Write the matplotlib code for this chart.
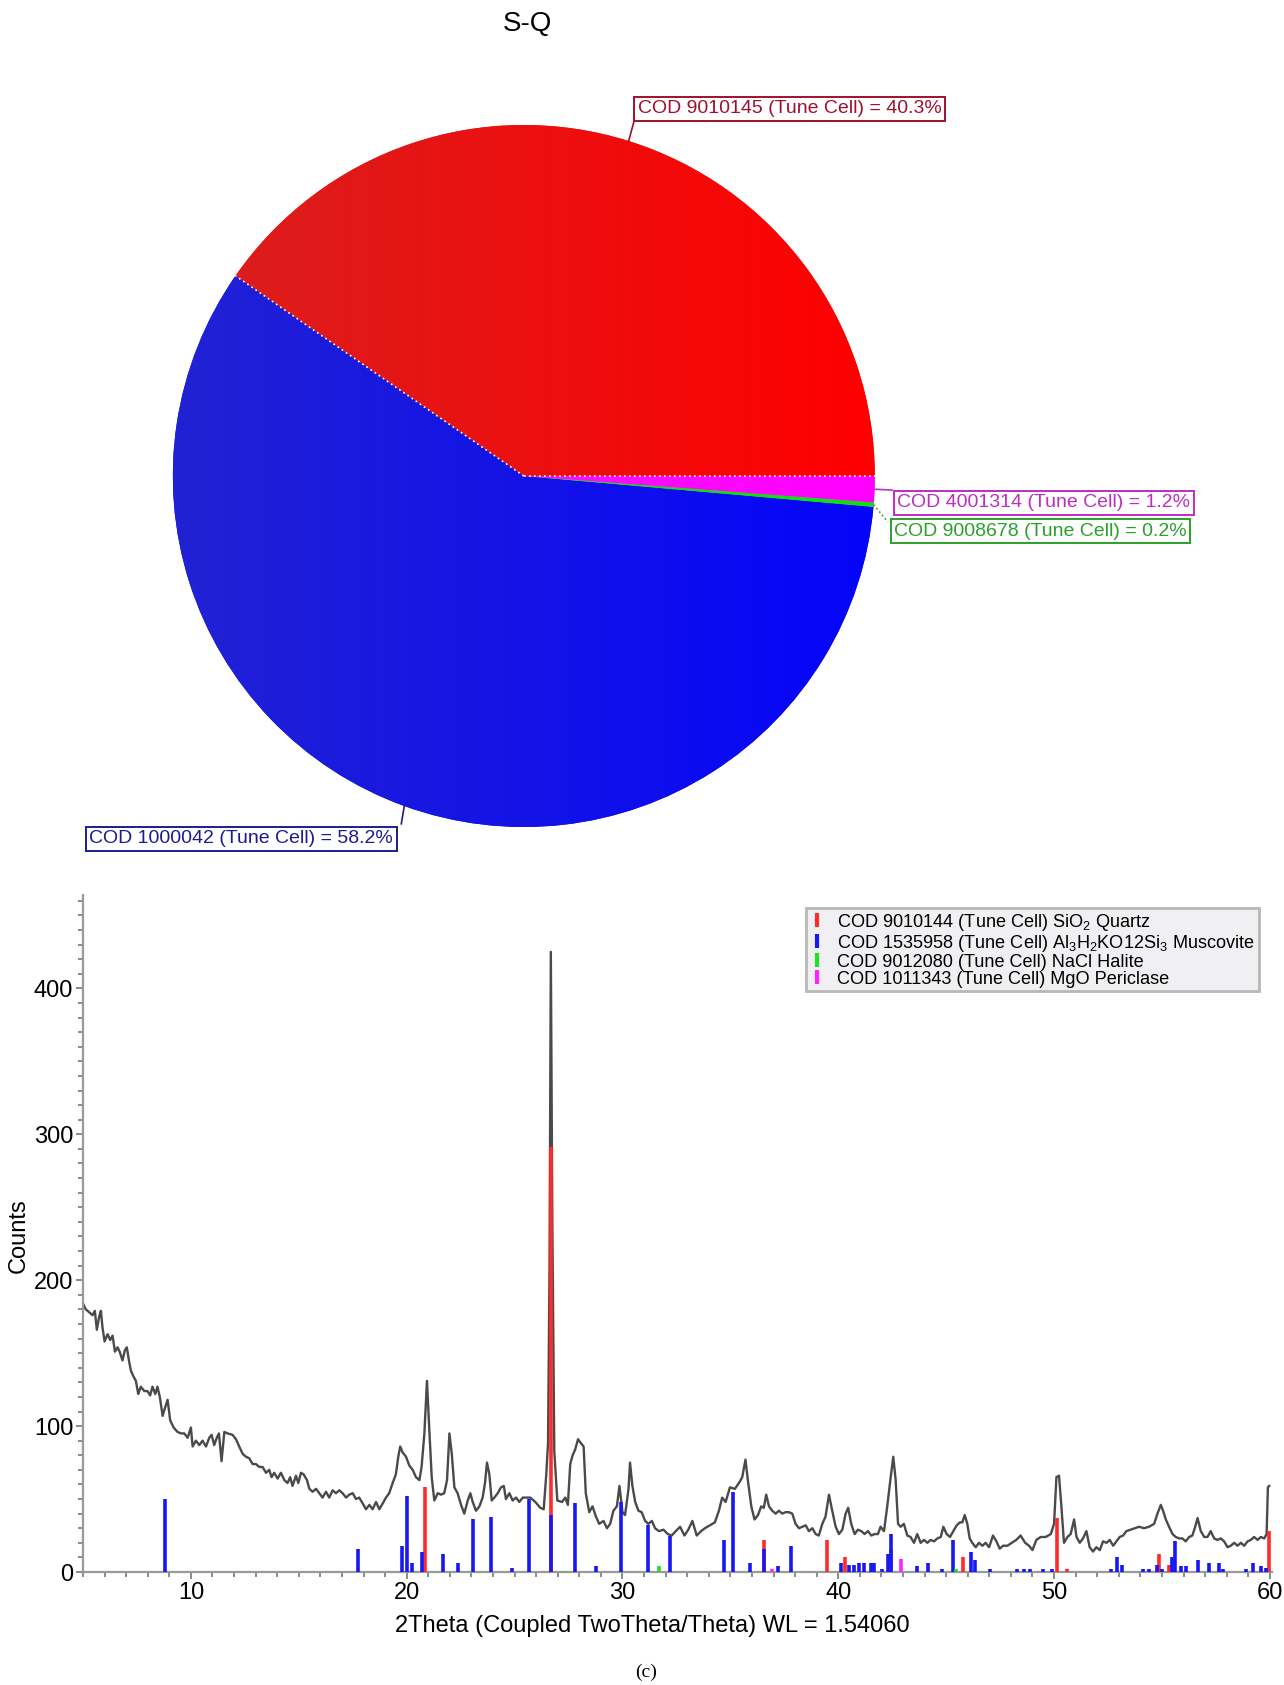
"""Phase quantification pie (S-Q) and indexed XRD pattern for sample (c)."""

import numpy as np
import matplotlib
matplotlib.use("Agg")
import matplotlib.pyplot as plt
from matplotlib.colors import LinearSegmentedColormap
from matplotlib.lines import Line2D

plt.rcParams["font.family"] = ["Liberation Sans", "DejaVu Sans"]
plt.rcParams["mathtext.default"] = "regular"

# ---- S-Q phase fractions (%) ----
phase_labels = ["COD 9010145 (Tune Cell)", "COD 1000042 (Tune Cell)",
                "COD 9008678 (Tune Cell)", "COD 4001314 (Tune Cell)"]
phase_share = [40.3, 58.2, 0.2, 1.2]

# ---- measured pattern ----
two_theta = [
    5.00, 5.13, 5.29, 5.44, 5.55, 5.64, 5.75, 5.83, 5.90, 6.00, 6.14, 6.26, 6.37, 6.48,
    6.60, 6.70, 6.83, 6.94, 7.03, 7.14, 7.22, 7.34, 7.45, 7.56, 7.68, 7.84, 7.99, 8.11,
    8.22, 8.35, 8.45, 8.56, 8.69, 8.79, 8.92, 9.04, 9.20, 9.38, 9.54, 9.69, 9.85, 10.00,
    10.08, 10.23, 10.39, 10.54, 10.70, 10.85, 10.96, 11.08, 11.20, 11.30, 11.42, 11.55,
    11.70, 11.93, 12.09, 12.24, 12.40, 12.55, 12.70, 12.86, 13.01, 13.17, 13.32, 13.48,
    13.63, 13.74, 13.86, 14.02, 14.17, 14.33, 14.48, 14.60, 14.71, 14.87, 14.98, 15.10,
    15.22, 15.38, 15.49, 15.64, 15.80, 15.95, 16.10, 16.26, 16.41, 16.57, 16.72, 16.88,
    17.03, 17.19, 17.34, 17.50, 17.65, 17.80, 17.96, 18.11, 18.27, 18.42, 18.58, 18.73,
    18.89, 19.04, 19.19, 19.35, 19.50, 19.61, 19.70, 19.81, 19.97, 20.12, 20.28, 20.43,
    20.59, 20.69, 20.82, 20.94, 21.05, 21.16, 21.28, 21.44, 21.59, 21.74, 21.87, 21.98,
    22.09, 22.21, 22.36, 22.52, 22.67, 22.83, 22.95, 23.06, 23.21, 23.37, 23.52, 23.63,
    23.72, 23.83, 23.94, 24.06, 24.22, 24.37, 24.50, 24.60, 24.76, 24.91, 25.07, 25.22,
    25.38, 25.50, 25.73, 25.96, 26.19, 26.35, 26.46, 26.55, 26.62, 26.68, 26.75, 26.84,
    26.98, 27.20, 27.35, 27.47, 27.58, 27.69, 27.81, 27.94, 28.09, 28.20, 28.30, 28.46,
    28.61, 28.77, 28.92, 29.12, 29.28, 29.43, 29.58, 29.74, 29.86, 30.00, 30.12, 30.28,
    30.35, 30.46, 30.59, 30.74, 30.89, 31.05, 31.20, 31.36, 31.51, 31.69, 31.90, 32.10,
    32.28, 32.47, 32.67, 32.87, 33.05, 33.24, 33.44, 33.64, 33.82, 34.05, 34.28, 34.47,
    34.62, 34.78, 34.98, 35.21, 35.44, 35.55, 35.70, 35.81, 35.97, 36.12, 36.28, 36.43,
    36.55, 36.66, 36.79, 36.94, 37.10, 37.25, 37.40, 37.56, 37.71, 37.87, 38.02, 38.18,
    38.33, 38.49, 38.64, 38.80, 38.95, 39.10, 39.26, 39.41, 39.57, 39.72, 39.88, 40.03,
    40.19, 40.34, 40.46, 40.60, 40.76, 40.91, 41.07, 41.22, 41.38, 41.53, 41.68, 41.84,
    41.96, 42.12, 42.27, 42.43, 42.55, 42.66, 42.77, 42.89, 43.04, 43.20, 43.35, 43.51,
    43.66, 43.82, 43.97, 44.13, 44.28, 44.44, 44.59, 44.75, 44.87, 45.02, 45.18, 45.33,
    45.49, 45.64, 45.75, 45.86, 45.98, 46.09, 46.21, 46.37, 46.52, 46.68, 46.83, 46.99,
    47.17, 47.33, 47.48, 47.64, 47.84, 48.04, 48.25, 48.45, 48.66, 48.84, 49.00, 49.18,
    49.38, 49.61, 49.85, 50.00, 50.11, 50.23, 50.34, 50.46, 50.62, 50.77, 50.93, 51.04,
    51.19, 51.34, 51.50, 51.65, 51.81, 51.96, 52.12, 52.27, 52.43, 52.58, 52.74, 52.89,
    53.04, 53.20, 53.35, 53.55, 53.76, 53.94, 54.17, 54.40, 54.64, 54.79, 54.95, 55.05,
    55.18, 55.33, 55.49, 55.64, 55.80, 55.95, 56.10, 56.26, 56.41, 56.54, 56.65, 56.80,
    56.96, 57.11, 57.26, 57.42, 57.57, 57.73, 57.88, 58.04, 58.19, 58.35, 58.50, 58.66,
    58.81, 58.97, 59.12, 59.27, 59.43, 59.58, 59.74, 59.85, 59.91, 59.97,
]
counts = [
    184, 180, 178, 176, 179, 166, 175, 179, 168, 158, 163, 159, 162, 151,
    154, 151, 145, 152, 154, 144, 138, 134, 131, 122, 127, 124, 124, 121,
    127, 122, 127, 120, 107, 112, 118, 104, 99, 96, 95, 95, 92, 99,
    86, 90, 87, 90, 86, 92, 94, 87, 92, 95, 76, 96,
    95, 94, 91, 86, 81, 79, 78, 74, 74, 72, 72, 68,
    70, 65, 68, 64, 68, 63, 61, 65, 59, 66, 61, 68,
    67, 63, 57, 55, 57, 54, 51, 55, 51, 56, 54, 56,
    54, 51, 53, 54, 50, 51, 47, 43, 46, 43, 48, 43,
    47, 51, 54, 61, 67, 79, 86, 82, 79, 73, 70, 65,
    63, 72, 95, 131, 97, 65, 49, 54, 53, 54, 63, 95,
    81, 58, 54, 46, 40, 49, 54, 48, 42, 45, 51, 61,
    75, 67, 49, 51, 54, 58, 59, 50, 54, 49, 51, 48,
    51, 51, 51, 48, 44, 43, 65, 88, 210, 425, 239, 83,
    49, 48, 51, 46, 74, 80, 84, 91, 88, 86, 54, 41,
    45, 38, 33, 35, 30, 33, 42, 45, 59, 41, 39, 57,
    75, 59, 48, 42, 41, 35, 33, 35, 30, 28, 29, 26,
    25, 28, 31, 25, 29, 35, 25, 28, 30, 32, 34, 42,
    51, 48, 58, 57, 62, 65, 77, 63, 45, 36, 39, 45,
    44, 53, 45, 42, 40, 42, 40, 41, 41, 40, 33, 30,
    31, 32, 28, 30, 26, 25, 33, 38, 53, 42, 31, 26,
    29, 40, 44, 33, 26, 29, 28, 26, 28, 25, 26, 26,
    31, 28, 45, 65, 79, 63, 33, 31, 33, 25, 24, 20,
    26, 20, 22, 20, 22, 21, 23, 24, 31, 26, 24, 28,
    32, 34, 34, 39, 33, 23, 20, 17, 20, 18, 20, 17,
    25, 21, 16, 18, 18, 20, 22, 25, 20, 18, 15, 22,
    24, 24, 26, 33, 65, 66, 45, 20, 24, 26, 36, 24,
    20, 23, 28, 17, 14, 17, 15, 21, 20, 22, 18, 21,
    24, 25, 28, 29, 30, 31, 30, 31, 33, 40, 46, 42,
    36, 31, 26, 24, 23, 23, 21, 24, 25, 31, 37, 28,
    24, 24, 28, 23, 22, 23, 21, 17, 18, 20, 18, 20,
    18, 21, 22, 24, 22, 24, 23, 26, 58, 59,
]

# ---- reference stick patterns ----
quartz_pos = [20.86, 26.68, 36.54, 39.47, 40.29, 42.45, 45.79, 50.14, 50.62, 54.87, 55.33, 59.96]
quartz_int = [58, 291, 22, 22, 10, 16, 10, 37, 2, 12, 5, 28]

muscovite_pos = [8.80, 17.75, 19.80, 20.00, 20.26, 20.70, 21.70, 22.40, 23.07, 23.92,
                 24.88, 25.69, 26.70, 27.81, 28.77, 29.94, 31.17, 32.20, 34.70, 35.13,
                 35.90, 36.55, 37.20, 37.80, 40.14, 40.50, 40.73, 40.96, 41.20, 41.50,
                 41.65, 42.04, 42.30, 42.43, 43.63, 44.16, 44.80, 45.34, 46.14, 46.34,
                 47.02, 48.30, 48.60, 48.90, 49.50, 49.90, 52.63, 52.94, 53.17, 54.10,
                 54.40, 54.79, 55.02, 55.46, 55.61, 55.87, 56.10, 56.65, 57.16, 57.65,
                 57.81, 58.89, 59.20, 59.58, 59.80]
muscovite_int = [50, 16, 18, 52, 6, 14, 12, 6, 36, 38,
                 3, 50, 39, 47, 4, 48, 32, 25, 22, 55,
                 6, 16, 4, 18, 6, 5, 5, 6, 6, 6,
                 6, 2, 12, 26, 4, 6, 2, 22, 14, 8,
                 2, 2, 2, 2, 2, 2, 2, 10, 5, 2,
                 2, 5, 2, 10, 21, 4, 4, 8, 6, 6,
                 2, 2, 6, 4, 3]

halite_pos = [27.37, 31.70, 45.45]
halite_int = [1, 4, 2]

periclase_pos = [36.94, 42.92]
periclase_int = [2, 9]

legend_labels = [
    "COD 9010144 (Tune Cell) SiO$_2$ Quartz",
    "COD 1535958 (Tune Cell) Al$_3$H$_2$KO12Si$_3$ Muscovite",
    "COD 9012080 (Tune Cell) NaCl Halite",
    "COD 1011343 (Tune Cell) MgO Periclase",
]

W, H = 1284, 1685
fig = plt.figure(figsize=(W / 100, H / 100), dpi=100)

# ================= pie =================
cx, cy, r = 523.8, 476.0, 351.0     # pixels
ax_pie = fig.add_axes([(cx - r) / W, (H - cy - r) / H, 2 * r / W, 2 * r / H])

slice_colors = ["#f01010", "#1414e6", "#10e010", "#ff10ff"]
slice_shades = [("#d82020", "#ff0000"), ("#2222d4", "#0404fa"),
                ("#10e010", "#10e010"), ("#f020f0", "#ff00ff")]
label_colors = ["#a0102c", "#1c1c8e", "#2aa02a", "#c02cc0"]

wedges, _ = ax_pie.pie(phase_share, colors=slice_colors, startangle=0,
                       counterclock=True, wedgeprops=dict(linewidth=0))

# soft left-to-right shading inside each slice
ramp = np.linspace(0, 1, 256).reshape(1, -1)
for w, (c0, c1) in zip(wedges, slice_shades):
    cmap = LinearSegmentedColormap.from_list("shade", [c0, c1])
    im = ax_pie.imshow(ramp, cmap=cmap, extent=(-1, 1, -1, 1), aspect="auto",
                       zorder=w.get_zorder() + 0.1)
    im.set_clip_path(w)

# dotted white seams around the quartz slice
for ang in (wedges[0].theta1, wedges[0].theta2):
    a = np.deg2rad(ang)
    ax_pie.plot([0, np.cos(a)], [0, np.sin(a)], color="white", lw=1.2,
                ls=(0, (1, 2)), zorder=5)

# boxed labels with leader lines (pie data units, radius = 1)
label_xy = [(0.758, 1.047), (-0.805, -1.034), (1.472, -0.157), (1.482, -0.0755)]
leader_end = [(0.314, 1.011), (-0.349, -0.991), (1.037, -0.131), (1.049, -0.040)]
leader_style = ["-", "-", ":", "-"]
for w, name, share, col, xy, end, ls in zip(wedges, phase_labels, phase_share,
                                             label_colors, label_xy, leader_end,
                                             leader_style):
    mid = np.deg2rad((w.theta1 + w.theta2) / 2)
    ax_pie.plot([np.cos(mid), end[0]], [np.sin(mid), end[1]], color=col, lw=1.2,
                ls=ls, clip_on=False, zorder=6)
    ax_pie.text(xy[0], xy[1], f"{name} = {share:.1f}%", color=col, fontsize=14,
                ha="center", va="center", zorder=7,
                bbox=dict(boxstyle="square,pad=0.18", fc="white", ec=col, lw=1.4))

ax_pie.set_xlim(-1, 1)
ax_pie.set_ylim(-1, 1)
ax_pie.axis("off")

fig.text(527 / W, 1 - 24 / H, "S-Q", ha="center", va="center", fontsize=20)

# ================= XRD pattern =================
left, right, top, bottom = 83, 1272, 895, 1572
ax = fig.add_axes([left / W, (H - bottom) / H, (right - left) / W, (bottom - top) / H])

ax.plot(two_theta, counts, color="#4a4a4a", lw=1.7, zorder=2)

stick_sets = [(quartz_pos, quartz_int, "#ff2a2a"),
              (muscovite_pos, muscovite_int, "#1818f2"),
              (halite_pos, halite_int, "#22e022"),
              (periclase_pos, periclase_int, "#ff22ff")]
for pos, inten, col in stick_sets:
    ax.vlines(pos, 0, inten, colors=col, linewidth=2.6, zorder=3)

ax.set_xlim(5, 60.1)
ax.set_ylim(0, 464)
ax.set_xticks(range(10, 61, 10))
ax.set_xticks(range(5, 61), minor=True)
ax.set_yticks(range(0, 401, 100))
ax.set_yticks(range(0, 461, 10), minor=True)

for side in ("top", "right"):
    ax.spines[side].set_visible(False)
for side in ("left", "bottom"):
    ax.spines[side].set_color("#9a9a9a")
    ax.spines[side].set_linewidth(1.6)

ax.tick_params(which="major", direction="out", length=5, width=1.4,
               color="#8a8a8a", labelsize=17, pad=2)
ax.tick_params(which="minor", direction="out", length=3.5, width=1.4, color="#8a8a8a")

handles = [Line2D([], [], marker="|", linestyle="None", color=c, markersize=10,
                  markeredgewidth=3) for _, _, c in stick_sets]
leg = ax.legend(handles, legend_labels, loc="upper right",
                bbox_to_anchor=(0.989, 0.981), borderaxespad=0, fontsize=13.1,
                frameon=True, fancybox=False, framealpha=1, handlelength=0.8,
                handletextpad=0.7, labelspacing=0.0, borderpad=0.2)
leg.get_frame().set_facecolor("#f0f0f3")
leg.get_frame().set_edgecolor("#b8b8b8")
leg.get_frame().set_linewidth(2)

fig.text(652 / W, 1 - 1626 / H, "2Theta (Coupled TwoTheta/Theta) WL = 1.54060",
         ha="center", va="center", fontsize=17)
fig.text(19 / W, 1 - 1236 / H, "Counts", rotation=90, ha="center", va="center",
         fontsize=17)
fig.text(646 / W, 1 - 1672 / H, "(c)", ha="center", va="center", fontsize=14,
         family=["Liberation Serif", "DejaVu Serif"])

fig.savefig("out.png", dpi=100)
plt.close(fig)
